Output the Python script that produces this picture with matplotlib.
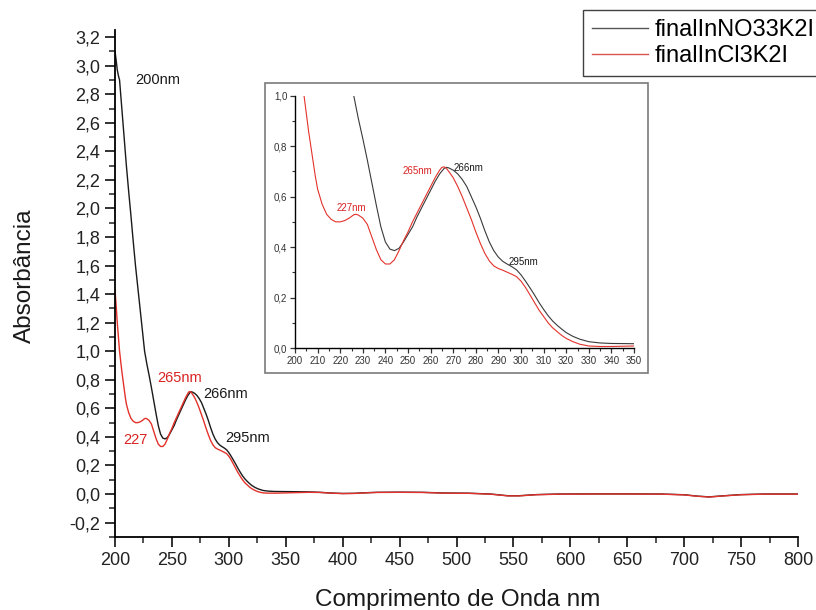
import matplotlib
matplotlib.use("Agg")
import matplotlib.pyplot as plt
from matplotlib.ticker import MultipleLocator, FuncFormatter
from matplotlib.lines import Line2D
from matplotlib.patches import Rectangle

plt.rcParams['font.family'] = ['Liberation Sans', 'DejaVu Sans']

# UV-Vis spectra (wavelength in nm, absorbance)
wl_no3 = [200, 201, 202, 203, 204, 206, 208, 210, 212, 214, 216, 218, 220, 222, 224, 226,
          228, 230, 232, 234, 236, 238, 240, 242, 244, 246, 248, 250, 252, 254, 256, 258,
          260, 262, 264, 266, 267, 268, 270, 272, 274, 276, 278, 280, 282, 284, 286, 288,
          290, 292, 294, 296, 298, 300, 302, 304, 306, 308, 310, 312, 314, 316, 318, 320,
          323, 326, 330, 335, 340, 350, 360, 370, 380, 390, 400, 410, 420, 430, 450, 470,
          490, 510, 530, 545, 555, 570, 590, 620, 650, 680, 700, 712, 722, 735, 750, 770, 800]
abs_no3 = [3.10, 3.04, 2.97, 2.93, 2.90, 2.70, 2.50, 2.30, 2.12, 1.95, 1.77, 1.60, 1.45, 1.30, 1.15, 1.00,
           0.91, 0.83, 0.745, 0.655, 0.565, 0.48, 0.42, 0.392, 0.386, 0.395, 0.42, 0.45, 0.48, 0.52, 0.555, 0.59,
           0.625, 0.66, 0.69, 0.712, 0.716, 0.714, 0.705, 0.69, 0.668, 0.64, 0.60, 0.56, 0.515, 0.465, 0.42, 0.385,
           0.36, 0.343, 0.332, 0.322, 0.31, 0.29, 0.265, 0.238, 0.21, 0.18, 0.153, 0.128, 0.107, 0.09, 0.075, 0.061,
           0.046, 0.035, 0.025, 0.02, 0.018, 0.017, 0.016, 0.015, 0.012, 0.007, 0.004, 0.005, 0.009, 0.012, 0.013, 0.012,
           0.007, 0.006, 0.0, -0.012, -0.012, -0.004, 0.0, 0.001, 0.001, 0.0, -0.005, -0.015, -0.02, -0.012, -0.004, 0.0, 0.0]

wl_cl = [200, 201, 202, 203, 204, 205, 206, 207, 208, 209, 210, 212, 214, 216, 218, 220,
         222, 224, 226, 227, 228, 230, 232, 234, 236, 238, 240, 242, 244, 246, 248, 250,
         252, 254, 256, 258, 260, 262, 264, 265, 266, 267, 268, 270, 272, 274, 276, 278,
         280, 282, 284, 286, 288, 290, 292, 294, 296, 298, 300, 302, 304, 306, 308, 310,
         312, 314, 316, 318, 320, 323, 326, 330, 335, 340, 350, 360, 370, 380, 390, 400,
         410, 420, 430, 450, 470, 490, 510, 530, 545, 555, 570, 590, 620, 650, 680, 700,
         712, 722, 735, 750, 770, 800]
abs_cl = [1.43, 1.32, 1.20, 1.10, 1.00, 0.93, 0.86, 0.80, 0.74, 0.68, 0.63, 0.57, 0.53, 0.51, 0.50, 0.50,
          0.505, 0.515, 0.528, 0.53, 0.527, 0.515, 0.49, 0.44, 0.39, 0.35, 0.333, 0.333, 0.35, 0.385, 0.425, 0.46,
          0.50, 0.535, 0.57, 0.605, 0.64, 0.675, 0.705, 0.716, 0.718, 0.712, 0.70, 0.675, 0.64, 0.60, 0.555, 0.51,
          0.46, 0.415, 0.375, 0.345, 0.325, 0.315, 0.308, 0.30, 0.292, 0.283, 0.265, 0.24, 0.21, 0.18, 0.15, 0.125,
          0.10, 0.08, 0.065, 0.05, 0.038, 0.025, 0.015, 0.008, 0.006, 0.006, 0.008, 0.010, 0.012, 0.011, 0.006, 0.003,
          0.004, 0.008, 0.011, 0.012, 0.011, 0.006, 0.005, -0.001, -0.013, -0.013, -0.005, -0.001, 0.0, 0.0, -0.001, -0.006,
          -0.016, -0.021, -0.013, -0.005, -0.001, -0.001]

series_labels = ["finalInNO33K2I", "finalInCl3K2I"]
c_black = "#1a1a1a"
c_red = "#e3322b"
c_text_red = "#d92222"

comma = FuncFormatter(lambda v, p: f"{v:.1f}".replace(".", ","))
int_fmt = FuncFormatter(lambda v, p: f"{v:.0f}")

fig = plt.figure(figsize=(8.16, 6.10), dpi=100)
ax = fig.add_axes([115/816, 1-537/610, (798-115)/816, (537-30)/610])

ax.plot(wl_no3, abs_no3, color=c_black, lw=1.0)
ax.plot(wl_cl, abs_cl, color=c_red, lw=1.0)
ax.set_xlim(200, 800)
ax.set_ylim(-0.301, 3.25)
ax.spines['top'].set_visible(False)
ax.spines['right'].set_visible(False)
for s in ('left', 'bottom'):
    ax.spines[s].set_linewidth(1.3)
ax.xaxis.set_major_locator(MultipleLocator(50))
ax.xaxis.set_minor_locator(MultipleLocator(25))
ax.yaxis.set_major_locator(MultipleLocator(0.2))
ax.yaxis.set_minor_locator(MultipleLocator(0.1))
ax.yaxis.set_major_formatter(comma)
ax.xaxis.set_major_formatter(int_fmt)
ax.tick_params(which='major', direction='out', length=7, width=1.3, labelsize=13, colors='#222222')
ax.tick_params(which='minor', direction='out', length=4, width=1.1, colors='#222222')

# axis titles
fig.text(458/816, 1-606/610, "Comprimento de Onda nm", fontsize=17.5,
         ha='center', va='baseline', color='#1a1a1a')
fig.text(25/816, 1-276/610, "Absorbância", fontsize=17.5, rotation=90,
         ha='center', va='center', color='#1a1a1a')

ann_kw = dict(fontsize=10.5, ha='left', va='center')
ax.text(217.6, 2.90, "200nm", color=c_black, **ann_kw)
ax.text(236.9, 0.813, "265nm", color=c_text_red, **ann_kw)
ax.text(277.3, 0.70, "266nm", color=c_black, **ann_kw)
ax.text(207.0, 0.378, "227", color=c_text_red, **ann_kw)
ax.text(296.7, 0.392, "295nm", color=c_black, **ann_kw)

# inset frame
fig.patches.append(Rectangle((265/816, 1-373/610), (648-265)/816, (373-83)/610,
                             transform=fig.transFigure, fill=False,
                             edgecolor='#7a7a7a', lw=1.2, zorder=1))

ins = fig.add_axes([295/816, 1-348/610, (634-295)/816, (348-95.7)/610])
ins.plot(wl_no3, abs_no3, color='#3a3a3a', lw=0.8)
ins.plot(wl_cl, abs_cl, color=c_red, lw=0.8)
ins.set_xlim(200, 350)
ins.set_ylim(0, 1.0)
ins.spines['top'].set_visible(False)
ins.spines['right'].set_visible(False)
for s in ('left', 'bottom'):
    ins.spines[s].set_linewidth(1.0)
ins.xaxis.set_major_locator(MultipleLocator(10))
ins.xaxis.set_minor_locator(MultipleLocator(5))
ins.yaxis.set_major_locator(MultipleLocator(0.2))
ins.yaxis.set_minor_locator(MultipleLocator(0.1))
ins.yaxis.set_major_formatter(comma)
ins.xaxis.set_major_formatter(int_fmt)
ins.tick_params(which='major', direction='out', length=3.5, width=0.9, labelsize=7, colors='#333333', pad=2)
ins.tick_params(which='minor', direction='out', length=2, width=0.8, colors='#333333')

ins_kw = dict(fontsize=7, ha='left', va='center')
ins.text(218.4, 0.556, "227nm", color=c_text_red, **ins_kw)
ins.text(247.5, 0.703, "265nm", color=c_text_red, **ins_kw)
ins.text(270.0, 0.715, "266nm", color=c_black, **ins_kw)
ins.text(294.4, 0.34, "295nm", color=c_black, **ins_kw)

handles = [Line2D([], [], color='#555555', lw=1.0), Line2D([], [], color='#d9544e', lw=1.0)]
leg = fig.legend(handles, series_labels, loc='upper left',
                 bbox_to_anchor=(583/816, 1-10/610), borderaxespad=0,
                 fontsize=17, frameon=True, fancybox=False, edgecolor='#111111',
                 borderpad=0.4, labelspacing=0.15, handlelength=2.35, handletextpad=0.3)
leg.get_frame().set_linewidth(1.0)

fig.savefig("out.png", dpi=100)
